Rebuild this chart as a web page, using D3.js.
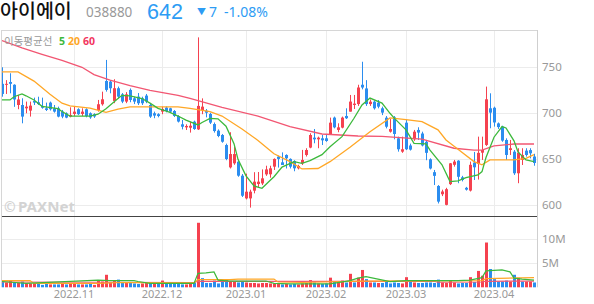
<!DOCTYPE html>
<html>
<head>
<meta charset="utf-8">
<script src="https://cdn.jsdelivr.net/npm/d3@7"></script>
<style>
body { margin: 0; background: #fff; }
svg { display: block; }
text { font-family: "Noto Sans", "Noto Sans CJK KR", sans-serif; }
</style>
</head>
<body>
<div id="chart"></div>
<script>
// daily candles, index 0 = 2022-10-05 ... index 133 = 2023-04-17
const opens = [732,731,734,731,709,709,705.4,702.9,713.4,712,708,705.4,711.6,705.4,705.4,701.8,700,696.4,699.3,704.4,
  699.3,704.4,700,699,703.6,709.8,735.1,734.4,713.4,727.2,720.6,712.7,725.4,716.3,718.1,716.3,719.2,709,700,699,
  701.8,706.2,705.4,702.5,697,688,684.7,684.3,690.9,682.5,703.5,702.8,699.2,688.3,681.1,676.4,665.5,641.2,645.6,647.4,
  632.2,607.5,607.5,615.9,623.1,623.8,633.6,633.7,642,652.9,646.7,654.7,650.4,648.2,640.2,645.6,654.7,662.7,673.5,671.7,
  672.8,672.8,677.2,695.3,681.9,684.4,697.1,701.8,709,710,731,727,710,712.6,711.5,705.4,695.2,680,695.6,672.8,
  658.3,689.8,665,671.7,681.9,678,669,650,636,621,612,600.5,623,644,648.5,630.4,619,616,646.4,645,
  657.2,665.6,705.4,706,689,685.5,671,660.1,658.3,634.8,649.3,659.4,660,653];
const highs = [750,736,743.5,731.5,720,716.3,712.7,712.7,717,718,717,711.6,712.7,709,707.2,703.6,701,706.5,707.2,705.4,
  705.4,705.4,701,700,714.5,723.5,758,736.2,737,729,722,723,727,718,722,718,721,711,701.8,700,
  707.2,707.5,706,703.5,698,692.7,688,690.9,692,782.5,716.2,704.6,700.6,690,682.5,677.5,667,679.4,664,648,
  634,634.4,617,636,636.2,639,643,643,651,654,657.5,655.4,651,649,644,660.2,662,678.3,682.9,674.6,
  676.4,677.5,695.3,696.4,689.1,696.4,705.4,719.9,719.9,731,756,736,715,714,714.4,707.2,697,694,697,674.6,
  674.6,692.7,667,681.9,684.8,680,671,651,638.4,622,617,619,646,649.3,649,632,620,647.5,658,674.6,
  674.6,729,721.7,707.2,690,686.5,672.8,671,660.1,662,662,662,662,656];
const lows = [718,721,721.7,707,704.4,689.1,700,696.4,709,709,705,702.5,703,700.7,695.6,694.6,694.6,695.6,697,698.2,
  697,695.6,694,695,701.8,708.3,723.5,721.7,711,716,711,711,712,710,709,709,711,695,694.6,695.6,
  699,701,700.5,696,690,682.5,681.8,679,682,681.8,699,695.6,688.3,679,674,668,649,640,644,631,
  609,606.4,597.5,613,620,622,632,630,638.4,641,643.8,640,640,637,639,643.8,653,662,667.4,662,
  665.5,669,676.4,683.6,679.4,683.6,693.8,701.8,704.7,708,726,708,708,704,705.4,698,683.6,679,671.7,658.3,
  657,660,659.5,670,671,664,649,639,622,602,610,600,622,642,624,626,616,615,627.5,628,
  649.3,664.5,683.7,685.5,683,669,649.3,654.7,633,624,643.8,652.9,651,643];
const closes = [721,732,732,715,715,696.4,707.2,708.3,711.6,710,706,703.6,704.4,701.8,696.4,696.4,695.3,698.2,701.8,699,
  701.8,697,695.5,696.5,709.8,715.2,725.4,727.2,727.2,718.1,712.7,720.6,714.5,712.7,710.9,710.9,712.7,696.4,697.5,697,
  704.7,702.5,701.8,697.1,691,685.4,686.2,686.5,682.9,708,707.2,700.6,689.8,680.7,675.3,669.1,650.3,655.7,655.7,632.2,
  610.4,614.8,614.8,625.7,625.7,629.3,639,640.2,650.4,650.4,643.8,651.1,642,640.2,642.7,649.3,660.1,676.4,671.7,673.5,
  670.6,669.9,689.8,684.7,684.7,695.3,694.6,712.7,710.5,728,728,710,712.6,705.4,707.2,700.7,685.4,682.9,677.5,660.9,
  660.9,660.9,660.5,680,679,665,657,640,632,604,615,617.5,645.6,647.5,631,627.5,617,644,641.3,657,
  660.1,715.2,700.7,690,685,670.3,654.7,662,634.8,657.2,654.7,654.7,656.5,646];
// volume in millions of shares
const volumes = [1.2,1.0,1.3,1.0,0.9,1.2,0.8,0.8,0.8,0.9, 0.5,0.7,0.6,0.6,0.6,0.7,0.6,0.7,0.7,0.6,
  0.6,0.6,0.7,0.5,1.4,1.2,2.6,1.0,1.4,1.6, 1.0,1.1,0.9,0.8,0.7,0.8,0.9,1.0,0.7,0.8,
  1.4,0.9,0.8,0.7,0.9,0.6,0.6,0.8,1.0,13.4, 1.9,0.9,0.9,1.4,0.8,1.4,1.6,1.2,1.1,1.0,
  1.2,1.0,0.9,0.9,0.8,0.9,0.9,0.8,0.7,0.7, 0.6,0.7,0.6,0.7,0.6,0.8,0.9,1.5,1.0,0.8,
  0.7,0.8,2.0,1.1,0.9,1.4,1.0,2.8,1.0,2.0, 3.6,1.7,1.0,1.0,0.9,0.9,1.1,0.8,1.0,0.9,
  0.8,2.1,1.2,1.0,0.9,0.9,1.0,1.0,0.9,1.6, 1.0,0.9,1.4,1.0,0.8,0.9,0.9,2.1,1.1,3.4,
  2.4,9.3,3.8,1.7,1.2,1.2,1.4,1.2,2.6,2.0, 1.2,1.2,1.2,1.0];

// moving average lines: [candle index, value]
const ma5 = [[0,714.5],[2,714.5],[3,718],[5,721],[6,719],[8,714.5],[10,707.5],[14,705],[15,702],[17,697],[22,697],
  [24,699],[26,705],[29,716],[30,719.5],[32,719],[35,716],[37,711],[39,705.4],[42,701],[44,697],[46,692.5],[49,687.3],
  [50,690],[52,694.5],[54,694],[56,686],[58,667],[59,650],[61,632],[63,621],[65,618.5],[67,627],[68,631],[70,641.5],
  [73,647.4],[75,645.6],[77,648.5],[80,655],[82,663.7],[85,674.6],[88,694.6],[90,709],[92,716.5],[95,711],[97,700],
  [98,695],[101,682],[103,667.4],[106,666.7],[107,660],[110,644],[112,625.7],[114,626.5],[116,630],[119,633],
  [120,636.6],[121,652],[123,674],[125,685.5],[126,684],[128,670],[129,658],[131,649.3],[133,647.5]];
const ma20 = [[0,745],[4,745],[8,735],[12,720.6],[15,711],[17,708],[22,705.5],[26,701],[29,704.5],[32,707],[37,707],
  [44,707],[47,705.4],[52,701.7],[55,697],[60,683],[64,670.5],[68,656],[72,647.4],[75,639.5],[79,640],[82,647.4],
  [87,663],[92,680],[97,695],[101,693],[105,691],[109,682],[111,671],[114,661],[118,647.5],[120,644],[122,649.3],
  [128,649.3],[131,651],[133,655]];
const ma60 = [[0,779],[5,771],[10,764],[15,757.5],[20,750],[23,742],[27,736],[32,730],[37,725],[44,719.5],[47,716.3],
  [55,706.5],[64,697],[72,685.5],[80,677.5],[89,675.3],[95,675],[105,672],[113,662],[118,660],[120,660],[123,664.5],
  [128,666.6],[133,666.6]];
const vma5 = [[0,1.2],[6,0.8],[24,1.5],[27,1.4],[33,1.4],[34,1.2],[37,0.8],[48,0.8],[49,2.9],[51,3.0],[53,3.2],[54,1.5],
  [57,1.3],[66,1.3],[68,0.8],[72,0.7],[82,0.7],[87,1.4],[89,1.9],[91,2.2],[94,1.7],[97,1.2],[101,1.4],[114,1.4],
  [117,1.5],[120,2.0],[121,3.4],[125,3.6],[127,3.2],[128,1.9],[130,1.7],[133,1.5]];
const vma20 = [[0,1.4],[7,1.4],[8,0.8],[24,0.8],[30,1.0],[48,0.9],[49,1.6],[57,1.6],[59,1.7],[68,1.7],[69,1.1],
  [75,1.0],[90,1.3],[120,1.4],[121,1.8],[133,2.0]];
const vma60 = [[0,1.1],[48,1.0],[49,1.25],[108,1.25],[109,1.05],[120,1.1],[121,1.25],[133,1.3]];

const monthIdx = [18, 40, 61, 81, 101, 123];
const monthLabels = ["2022.11", "2022.12", "2023.01", "2023.02", "2023.03", "2023.04"];
const priceTicks = [600, 650, 700, 750];
const volTicks = [5, 10];
const volTickLabels = ["5M", "10M"];

const width = 594, height = 304;
const left = 2, axisX = 537;
const priceTop = 30, priceBottom = 215;
const volTop = 217, volBottom = 287.3;

const RED = "#f5414f", BLUE = "#2b8def";
const C5 = "#3cb93c", C20 = "#ffa726", C60 = "#f25672";

const svg = d3.select("#chart").append("svg")
    .attr("width", width)
    .attr("height", height);

const x = d3.scaleLinear().domain([0, 133]).range([2, 534]);
const y = d3.scaleLinear().domain([589.46, 790.5]).range([priceBottom, priceTop]);
const yv = d3.scaleLinear().domain([0, 14.6]).range([volBottom, volTop]);

// clip paths
const defs = svg.append("defs");
defs.append("clipPath").attr("id", "clipP").append("rect")
    .attr("x", left).attr("y", priceTop).attr("width", axisX - left).attr("height", priceBottom - priceTop);
defs.append("clipPath").attr("id", "clipV").append("rect")
    .attr("x", left).attr("y", volTop + 1).attr("width", axisX - left).attr("height", volBottom - volTop);

// grid
const grid = svg.append("g");
grid.selectAll("line.vg").data(monthIdx).enter().append("line")
    .attr("x1", d => Math.round(x(d)) + 0.5).attr("x2", d => Math.round(x(d)) + 0.5)
    .attr("y1", priceTop).attr("y2", volBottom)
    .attr("stroke", "#ececec");
grid.selectAll("line.hg").data(priceTicks).enter().append("line")
    .attr("x1", left).attr("x2", axisX)
    .attr("y1", d => Math.round(y(d)) + 0.5).attr("y2", d => Math.round(y(d)) + 0.5)
    .attr("stroke", "#ececec");
grid.selectAll("line.vhg").data(volTicks).enter().append("line")
    .attr("x1", left).attr("x2", axisX)
    .attr("y1", d => Math.round(yv(d)) + 0.5).attr("y2", d => Math.round(yv(d)) + 0.5)
    .attr("stroke", "#ececec");

// frame
svg.append("line").attr("x1", left).attr("x2", axisX).attr("y1", priceTop + 0.5).attr("y2", priceTop + 0.5).attr("stroke", "#d6d6d6");
svg.append("line").attr("x1", left - 0.5).attr("x2", left - 0.5).attr("y1", priceTop).attr("y2", volBottom).attr("stroke", "#d6d6d6");
svg.append("line").attr("x1", axisX + 0.5).attr("x2", axisX + 0.5).attr("y1", priceTop).attr("y2", volBottom).attr("stroke", "#cfcfcf");
svg.append("line").attr("x1", left).attr("x2", axisX).attr("y1", 216.5).attr("y2", 216.5).attr("stroke", "#444");

// watermark
const wm = svg.append("g").attr("fill", "#d3d3d3").style("font-weight", "bold");
wm.append("text").attr("x", 4).attr("y", 212).style("font-size", "14px").text("©");
wm.append("text").attr("x", 18).attr("y", 212).style("font-size", "14px")
    .attr("textLength", 57).attr("lengthAdjust", "spacingAndGlyphs").text("PAXNet");

// price axis labels
svg.selectAll("text.py").data(priceTicks).enter().append("text")
    .attr("x", 542).attr("y", d => y(d)).attr("dy", "0.35em")
    .attr("fill", "#999").style("font-size", "11.5px").text(d => d);
svg.selectAll("text.vy").data(volTicks).enter().append("text")
    .attr("x", 542).attr("y", d => yv(d)).attr("dy", "0.35em")
    .attr("fill", "#999").style("font-size", "11.5px").text((d, k) => volTickLabels[k]);

// month labels
svg.selectAll("text.mx").data(monthIdx).enter().append("text")
    .attr("x", d => x(d)).attr("y", 298).attr("text-anchor", "middle")
    .attr("fill", "#999").style("font-size", "11px").text((d, k) => monthLabels[k]);

const idx = d3.range(closes.length);

// candles
const cg = svg.append("g").attr("clip-path", "url(#clipP)");
cg.selectAll("line.wick").data(idx).enter().append("line")
    .attr("x1", i => x(i) + 0.5).attr("x2", i => x(i) + 0.5)
    .attr("y1", i => y(highs[i])).attr("y2", i => y(lows[i]))
    .attr("stroke", i => closes[i] >= opens[i] ? RED : BLUE);
cg.selectAll("rect.body").data(idx).enter().append("rect")
    .attr("x", i => x(i) - 1).attr("width", 3)
    .attr("y", i => y(Math.max(opens[i], closes[i])))
    .attr("height", i => Math.max(1, Math.abs(y(opens[i]) - y(closes[i]))))
    .attr("fill", i => closes[i] >= opens[i] ? RED : BLUE);

const line = d3.line().x(d => x(d[0])).y(d => y(d[1]));
[[ma60, C60], [ma20, C20], [ma5, C5]].forEach(([data, col]) => {
    cg.append("path").datum(data).attr("d", line)
        .attr("fill", "none").attr("stroke", col).attr("stroke-width", 1.3);
});

// volume
const vg = svg.append("g").attr("clip-path", "url(#clipV)");
vg.selectAll("rect.vol").data(idx).enter().append("rect")
    .attr("x", i => x(i) - 1).attr("width", 3)
    .attr("y", i => yv(volumes[i]))
    .attr("height", i => yv(0) - yv(volumes[i]))
    .attr("fill", i => (i === 0 ? closes[i] >= opens[i] : closes[i] >= closes[i - 1]) ? RED : BLUE);
const vline = d3.line().x(d => x(d[0])).y(d => yv(d[1]));
[[vma60, C60], [vma20, C20], [vma5, C5]].forEach(([data, col]) => {
    vg.append("path").datum(data).attr("d", vline)
        .attr("fill", "none").attr("stroke", col).attr("stroke-width", 1.2);
});

// legend
const lg = svg.append("text").attr("x", 4).attr("y", 45).style("font-size", "10.5px");
lg.append("tspan").attr("fill", "#999").style("font-family", "'Noto Sans CJK KR'").text("이동평균선");
lg.append("tspan").attr("x", 59).attr("fill", C5).style("font-weight", "bold").text("5");
lg.append("tspan").attr("x", 68).attr("fill", C20).style("font-weight", "bold").text("20");
lg.append("tspan").attr("x", 83).attr("fill", "#f2365f").style("font-weight", "bold").text("60");

// header
svg.append("text").attr("x", 0).attr("y", 18).attr("fill", "#111")
    .style("font-family", "'Noto Sans CJK KR'").style("font-size", "19.5px").style("font-weight", "500")
    .text("아이에이");
svg.append("text").attr("x", 86).attr("y", 17).attr("fill", "#999").style("font-size", "13.5px").text("038880");
svg.append("text").attr("x", 147).attr("y", 18.5).attr("fill", "#2d9cf4")
    .style("font-family", "'Liberation Sans'").style("font-size", "21.5px").text("642");
svg.append("text").attr("x", 197).attr("y", 15).attr("fill", "#2d9cf4").style("font-size", "9px").text("▼");
svg.append("text").attr("x", 209).attr("y", 17).attr("fill", "#2d9cf4").style("font-size", "14px").text("7");
svg.append("text").attr("x", 224).attr("y", 17).attr("fill", "#2d9cf4").style("font-size", "14px").text("-1.08%");
</script>
</body>
</html>
